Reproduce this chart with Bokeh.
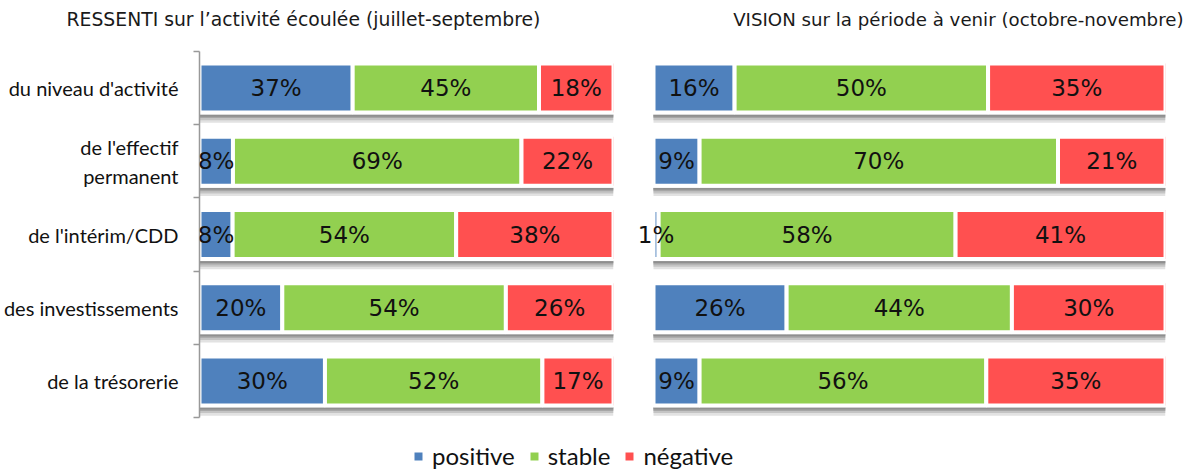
from bokeh.plotting import figure
from bokeh.models import Range1d, FixedTicker, ColumnDataSource, Legend, LegendItem, LabelSet
from bokeh.layouts import column, row
from bokeh.embed import file_html
from bokeh.resources import INLINE
from bokeh.core.properties import value

categories = ["du niveau d'activité", "de l'effectif\npermanent", "de l'intérim/CDD",
              "des investissements", "de la trésorerie"]
series = ["positive", "stable", "négative"]
colors = ["#4f81bd", "#92d050", "#ff5050"]

ressenti_positive = [37, 8, 8, 20, 30]
ressenti_stable = [45, 69, 54, 54, 52]
ressenti_negative = [18, 22, 38, 26, 17]

vision_positive = [16, 9, 1, 26, 9]
vision_stable = [50, 70, 58, 44, 56]
vision_negative = [35, 21, 41, 30, 35]

title_left = "RESSENTI sur l’activité écoulée (juillet-septembre)"
title_right = "VISION sur la période à venir (octobre-novembre)"

BAR_H = 0.67


def make_panel(pos, sta, neg, title, width, height, bl, br, bt, bb, show_axis,
               title_align, title_offset, title_size, x_start):
    p = figure(width=width, height=height, output_backend="svg", toolbar_location=None,
               x_range=Range1d(x_start, 1), y_range=Range1d(5, 0),
               x_axis_location="above", y_axis_location="left" if show_axis else None,
               min_border_left=bl, min_border_right=br, min_border_top=bt,
               min_border_bottom=bb)
    p.outline_line_color = None
    p.grid.visible = False
    p.background_fill_color = "white"
    p.border_fill_color = "white"

    # blank top axis: only reserves space between the frame and the title
    xa = p.xaxis[0]
    xa.ticker = FixedTicker(ticks=[0.5], minor_ticks=[])
    xa.major_label_overrides = {0.5: ""}
    xa.major_label_text_font_size = "0px"
    xa.axis_line_color = None
    xa.major_tick_line_color = None
    xa.minor_tick_line_color = None
    xa.major_tick_out = 22
    xa.major_tick_in = 0
    xa.minor_tick_out = 0
    xa.minor_tick_in = 0
    xa.major_label_standoff = 0

    n = len(pos)
    ys = [i + 0.5 for i in range(n)]
    # soft shadow under each bar
    for top, bot, c in [(0.36, 0.475, "#e2e2e2"), (0.36, 0.44, "#c4c4c4"),
                        (0.36, 0.41, "#a6a6a6"), (0.365, 0.39, "#8f8f8f")]:
        p.hbar(y=[y + (top + bot) / 2 for y in ys], left=0, right=1, height=bot - top,
               fill_color=c, line_color=None)

    for k, vals in enumerate([pos, sta, neg]):
        lefts, rights, txt, cx = [], [], [], []
        for i in range(n):
            tot = pos[i] + sta[i] + neg[i]
            before = sum([pos, sta, neg][j][i] for j in range(k))
            l = before / tot
            r = (before + vals[i]) / tot
            lefts.append(l)
            rights.append(r)
            cx.append((l + r) / 2)
            txt.append(f"{vals[i]}%")
        src = ColumnDataSource(dict(y=ys, left=lefts, right=rights, cx=cx, txt=txt))
        p.hbar(y="y", left="left", right="right", height=BAR_H, source=src,
               fill_color=colors[k], line_color="white", line_width=4)
        labels = LabelSet(x="cx", y="y", text="txt", source=src, text_align="center",
                          text_baseline="middle", text_font=value("DejaVu Sans"),
                          text_font_size=value("23px"), text_color=value("#111111"))
        p.add_layout(labels)

    if show_axis:
        ax = p.yaxis[0]
        ax.ticker = FixedTicker(ticks=ys, minor_ticks=[0, 1, 2, 3, 4, 5])
        ax.major_label_overrides = {y: categories[i] for i, y in enumerate(ys)}
        ax.major_tick_out = 0
        ax.major_tick_in = 0
        ax.minor_tick_out = 6
        ax.minor_tick_in = 0
        ax.minor_tick_line_color = "#999999"
        ax.minor_tick_line_width = 1.5
        ax.axis_line_color = "#999999"
        ax.axis_line_width = 1.5
        ax.major_label_standoff = 15
        ax.major_label_text_font = "Lato"
        ax.major_label_text_font_size = "20px"
        ax.major_label_text_color = "#111111"

    p.title.text = title
    p.title.align = title_align
    p.title.offset = title_offset
    p.title.text_font = "DejaVu Sans"
    p.title.text_font_size = title_size
    p.title.text_font_style = "normal"
    p.title.text_color = "#1a1a1a"
    p.title.standoff = 0
    return p


f1 = make_panel(ressenti_positive, ressenti_stable, ressenti_negative, title_left,
                630, 425, 198, 17, 51, 8, True, "left", -133, "18.8px", 0)
# right panel: frame starts 23 px before the bars so the small "1%" label is not cut
f2 = make_panel(vision_positive, vision_stable, vision_negative, title_right,
                561, 425, 0, 26, 51, 8, False, "right", -18, "18.2px", -23 / 512)

f3 = figure(width=1191, height=46, output_backend="svg", toolbar_location=None,
            x_range=Range1d(0, 1), y_range=Range1d(0, 1),
            x_axis_location=None, y_axis_location=None,
            min_border_left=0, min_border_right=0, min_border_top=0, min_border_bottom=0)
f3.outline_line_color = None
f3.grid.visible = False
items = []
for s, c in zip(series, colors):
    r = f3.hbar(y=[-10], left=[-10], right=[-9], height=0.5, fill_color=c, line_color=None)
    items.append(LegendItem(label=s, renderers=[r]))
leg = Legend(items=items, orientation="horizontal", location=(413, 1),
             label_text_font="Lato", label_text_font_size="24px",
             label_text_color="#111111", glyph_width=10, glyph_height=10,
             label_standoff=9, spacing=14, padding=0, margin=0,
             border_line_color=None, background_fill_alpha=0)
f3.add_layout(leg, "center")

layout = column(row(f1, f2), f3)
open("out.html", "w").write(file_html(layout, INLINE))
